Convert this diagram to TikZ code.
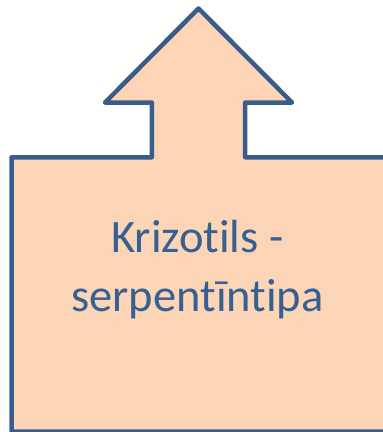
\documentclass[tikz,border=0pt]{standalone}
\usepackage{fontspec}
\setmainfont[Ligatures={NoCommon}]{Carlito}
\definecolor{edge}{HTML}{385D8A}
\definecolor{fillc}{HTML}{FBD5B5}
\definecolor{txt}{HTML}{376092}
\begin{document}
\begin{tikzpicture}[x=1pt,y=-1pt,
  shapeline/.style={draw=edge,fill=fillc,line width=4.5pt,line join=round},
  label/.style={text=txt,font=\fontsize{46.5}{59}\selectfont,align=center,inner sep=0pt}]
\useasboundingbox (0,0) rectangle (383,432);
\path[shapeline] (11.5,433) -- (11.5,157.3) -- (151.8,157.3) -- (151.8,102.5) -- (105,102.5)
  -- (198.5,8.5) -- (292,102.5) -- (245.2,102.5) -- (245.2,157.3) -- (400,157.3)
  -- (400,431.5) -- (11.5,431.5) -- cycle;
\node[label,anchor=base] (t) at (197.5,311.7) {Krizotils -\\serpentīntipa};
\end{tikzpicture}
\end{document}
